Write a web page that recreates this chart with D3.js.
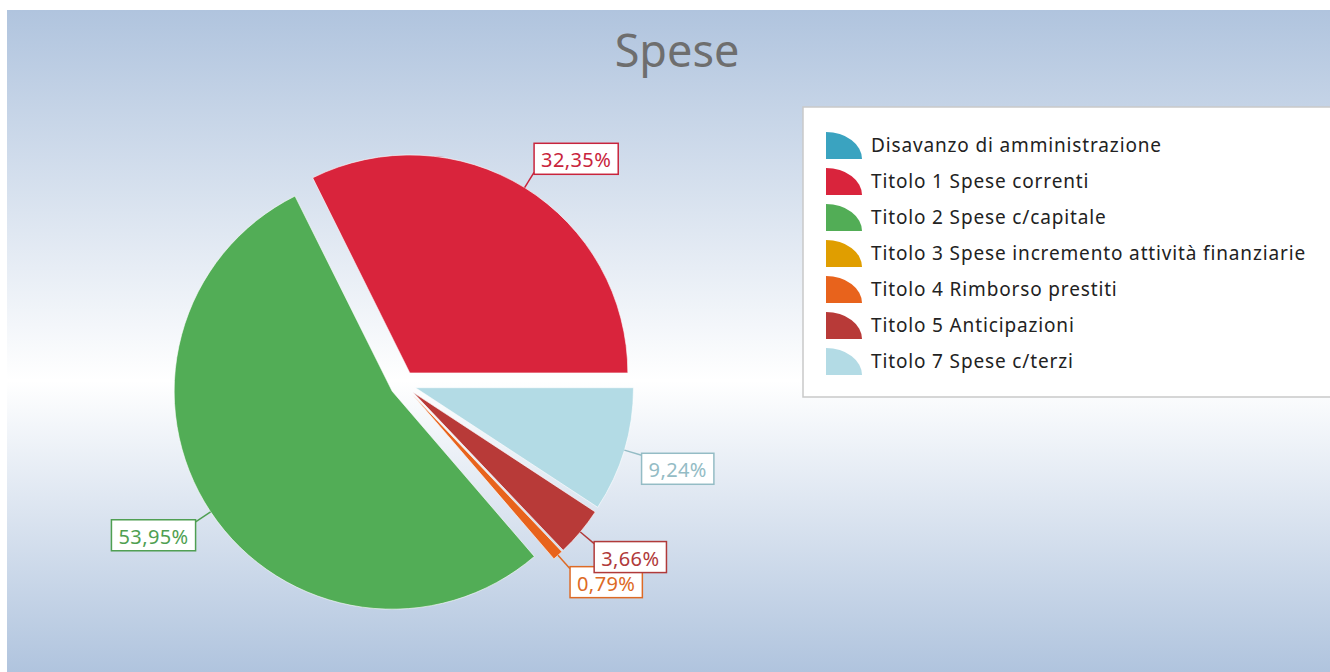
<!DOCTYPE html>
<html>
<head>
<meta charset="utf-8">
<script src="https://cdn.jsdelivr.net/npm/d3@7"></script>
<style>
  html, body { margin: 0; padding: 0; background: #fff; }
  svg { display: block; font-family: "Segoe UI", "Noto Sans", "Open Sans", sans-serif; }
</style>
</head>
<body>
<svg id="chart" width="1330" height="672"></svg>
<script>
/* global d3 */

// Categories and values (percent of total)
var categories = [
      "Disavanzo di amministrazione"
    , "Titolo 1 Spese correnti"
    , "Titolo 2 Spese c/capitale"
    , "Titolo 3 Spese incremento attività finanziarie"
    , "Titolo 4 Rimborso prestiti"
    , "Titolo 5 Anticipazioni"
    , "Titolo 7 Spese c/terzi"
  ]
  , values = [0, 32.35, 53.95, 0, 0.79, 3.66, 9.24]
  , title = "Spese"
;

var palette = ["#3aa3c0", "#d9243c", "#52ad56", "#e09e00", "#e8631c", "#b83a38", "#b3dbe5"]
  , labelPalette = ["#3aa3c0", "#c8243c", "#4f9f52", "#d09000", "#dd6a25", "#b03a3a", "#94bcc5"]
  , color = d3.scaleOrdinal().domain(categories).range(palette)
  , labelColor = d3.scaleOrdinal().domain(categories).range(labelPalette)
  , it = d3.formatLocale({decimal: ",", thousands: ".", grouping: [3], currency: ["", " €"]})
  , fmt = it.format(".2f")
;

var svg = d3.select("#chart")
  , W = 1330, H = 672
  , cx = 403, cy = 384
  , radius = 218
  , explode = 13
  , leader = 18
;

// Background panel with vertical gradient
var defs = svg.append("defs");
var grad = defs.append("linearGradient")
    .attr("id", "bg")
    .attr("x1", 0).attr("y1", 0).attr("x2", 0).attr("y2", 1);
grad.append("stop").attr("offset", "0%").attr("stop-color", "#b0c4de");
grad.append("stop").attr("offset", "56%").attr("stop-color", "#ffffff");
grad.append("stop").attr("offset", "100%").attr("stop-color", "#b0c4de");

svg.append("rect")
    .attr("x", 7).attr("y", 10)
    .attr("width", W - 7).attr("height", H - 10)
    .attr("fill", "url(#bg)");

// Title
svg.append("text")
    .attr("x", 677).attr("y", 67)
    .attr("text-anchor", "middle")
    .attr("font-size", 45)
    .attr("fill", "#6e6e6e")
    .text(title);

/*
** Pie
*/
var rows = categories.map(function(c, i) { return {name: c, value: values[i]}; });

var pie = d3.pie()
    .sort(null)
    .value(function(d) { return d.value; })
    .startAngle(Math.PI / 2)
    .endAngle(Math.PI / 2 - 2 * Math.PI);

var arc = d3.arc().innerRadius(0).outerRadius(radius);

var slices = pie(rows).filter(function(d) { return d.value > 0; });

function midAngle(d) { return (d.startAngle + d.endAngle) / 2; }
function offset(d, r) {
  var a = midAngle(d);
  return [Math.sin(a) * r, -Math.cos(a) * r];
}

var g = svg.append("g").attr("transform", "translate(" + cx + "," + cy + ")");

g.selectAll(".slice")
    .data(slices)
  .enter().append("path")
    .attr("class", "slice")
    .attr("transform", function(d) { return "translate(" + offset(d, explode) + ")"; })
    .attr("d", arc)
    .attr("fill", function(d) { return color(d.data.name); })
    .attr("stroke", "#ffffff")
    .attr("stroke-opacity", 0.6)
    .attr("stroke-width", 1);

// Labels with leader lines
var labels = g.selectAll(".label")
    .data(slices)
  .enter().append("g")
    .attr("class", "label");

labels.each(function(d) {
  var self = d3.select(this)
    , a = midAngle(d)
    , ux = Math.sin(a), uy = -Math.cos(a)
    , o = offset(d, explode)
    , p0 = [o[0] + ux * radius, o[1] + uy * radius]
    , p1 = [p0[0] + ux * leader, p0[1] + uy * leader]
    , c = labelColor(d.data.name)
  ;
  self.append("line")
      .attr("x1", p0[0]).attr("y1", p0[1])
      .attr("x2", p1[0]).attr("y2", p1[1])
      .attr("stroke", c)
      .attr("stroke-width", 1.5);

  var box = self.append("rect")
      .attr("fill", "#ffffff")
      .attr("stroke", c)
      .attr("stroke-width", 1.5);
  var txt = self.append("text")
      .attr("font-size", 20)
      .attr("letter-spacing", 0.4)
      .attr("fill", c)
      .attr("dominant-baseline", "central")
      .text(fmt(d.data.value) + "%");

  var tw = txt.node().getComputedTextLength()
    , bw = tw + 14, bh = 31
    , bx = ux >= 0 ? p1[0] : p1[0] - bw
    , by = uy >= 0 ? p1[1] - 2 : p1[1] - bh + 2
  ;
  box.attr("x", bx).attr("y", by).attr("width", bw).attr("height", bh);
  txt.attr("x", bx + 7).attr("y", by + bh / 2 + 1);
});

/*
** Legend
*/
var legend = svg.append("g").attr("transform", "translate(803,107)");

legend.append("rect")
    .attr("x", 0).attr("y", 0)
    .attr("width", 540).attr("height", 290)
    .attr("fill", "#ffffff")
    .attr("stroke", "#c9c9c9")
    .attr("stroke-width", 1.5);

var rowY = d3.scalePoint().domain(categories).range([38, 254]);

var items = legend.selectAll(".item")
    .data(categories)
  .enter().append("g")
    .attr("class", "item")
    .attr("transform", function(d) { return "translate(0," + rowY(d) + ")"; });

items.append("path")
    .attr("d", function() {
      var x = 23, w = 36, h = 27, y = -13;
      return "M" + x + "," + (y + h) + "L" + x + "," + y +
             "A" + w + "," + h + " 0 0 1 " + (x + w) + "," + (y + h) + "Z";
    })
    .attr("fill", function(d) { return color(d); });

items.append("text")
    .attr("x", 68).attr("y", 0)
    .attr("dominant-baseline", "central")
    .attr("font-size", 19)
    .attr("letter-spacing", 0.85)
    .attr("fill", "#222")
    .text(function(d) { return d; });
</script>
</body>
</html>
